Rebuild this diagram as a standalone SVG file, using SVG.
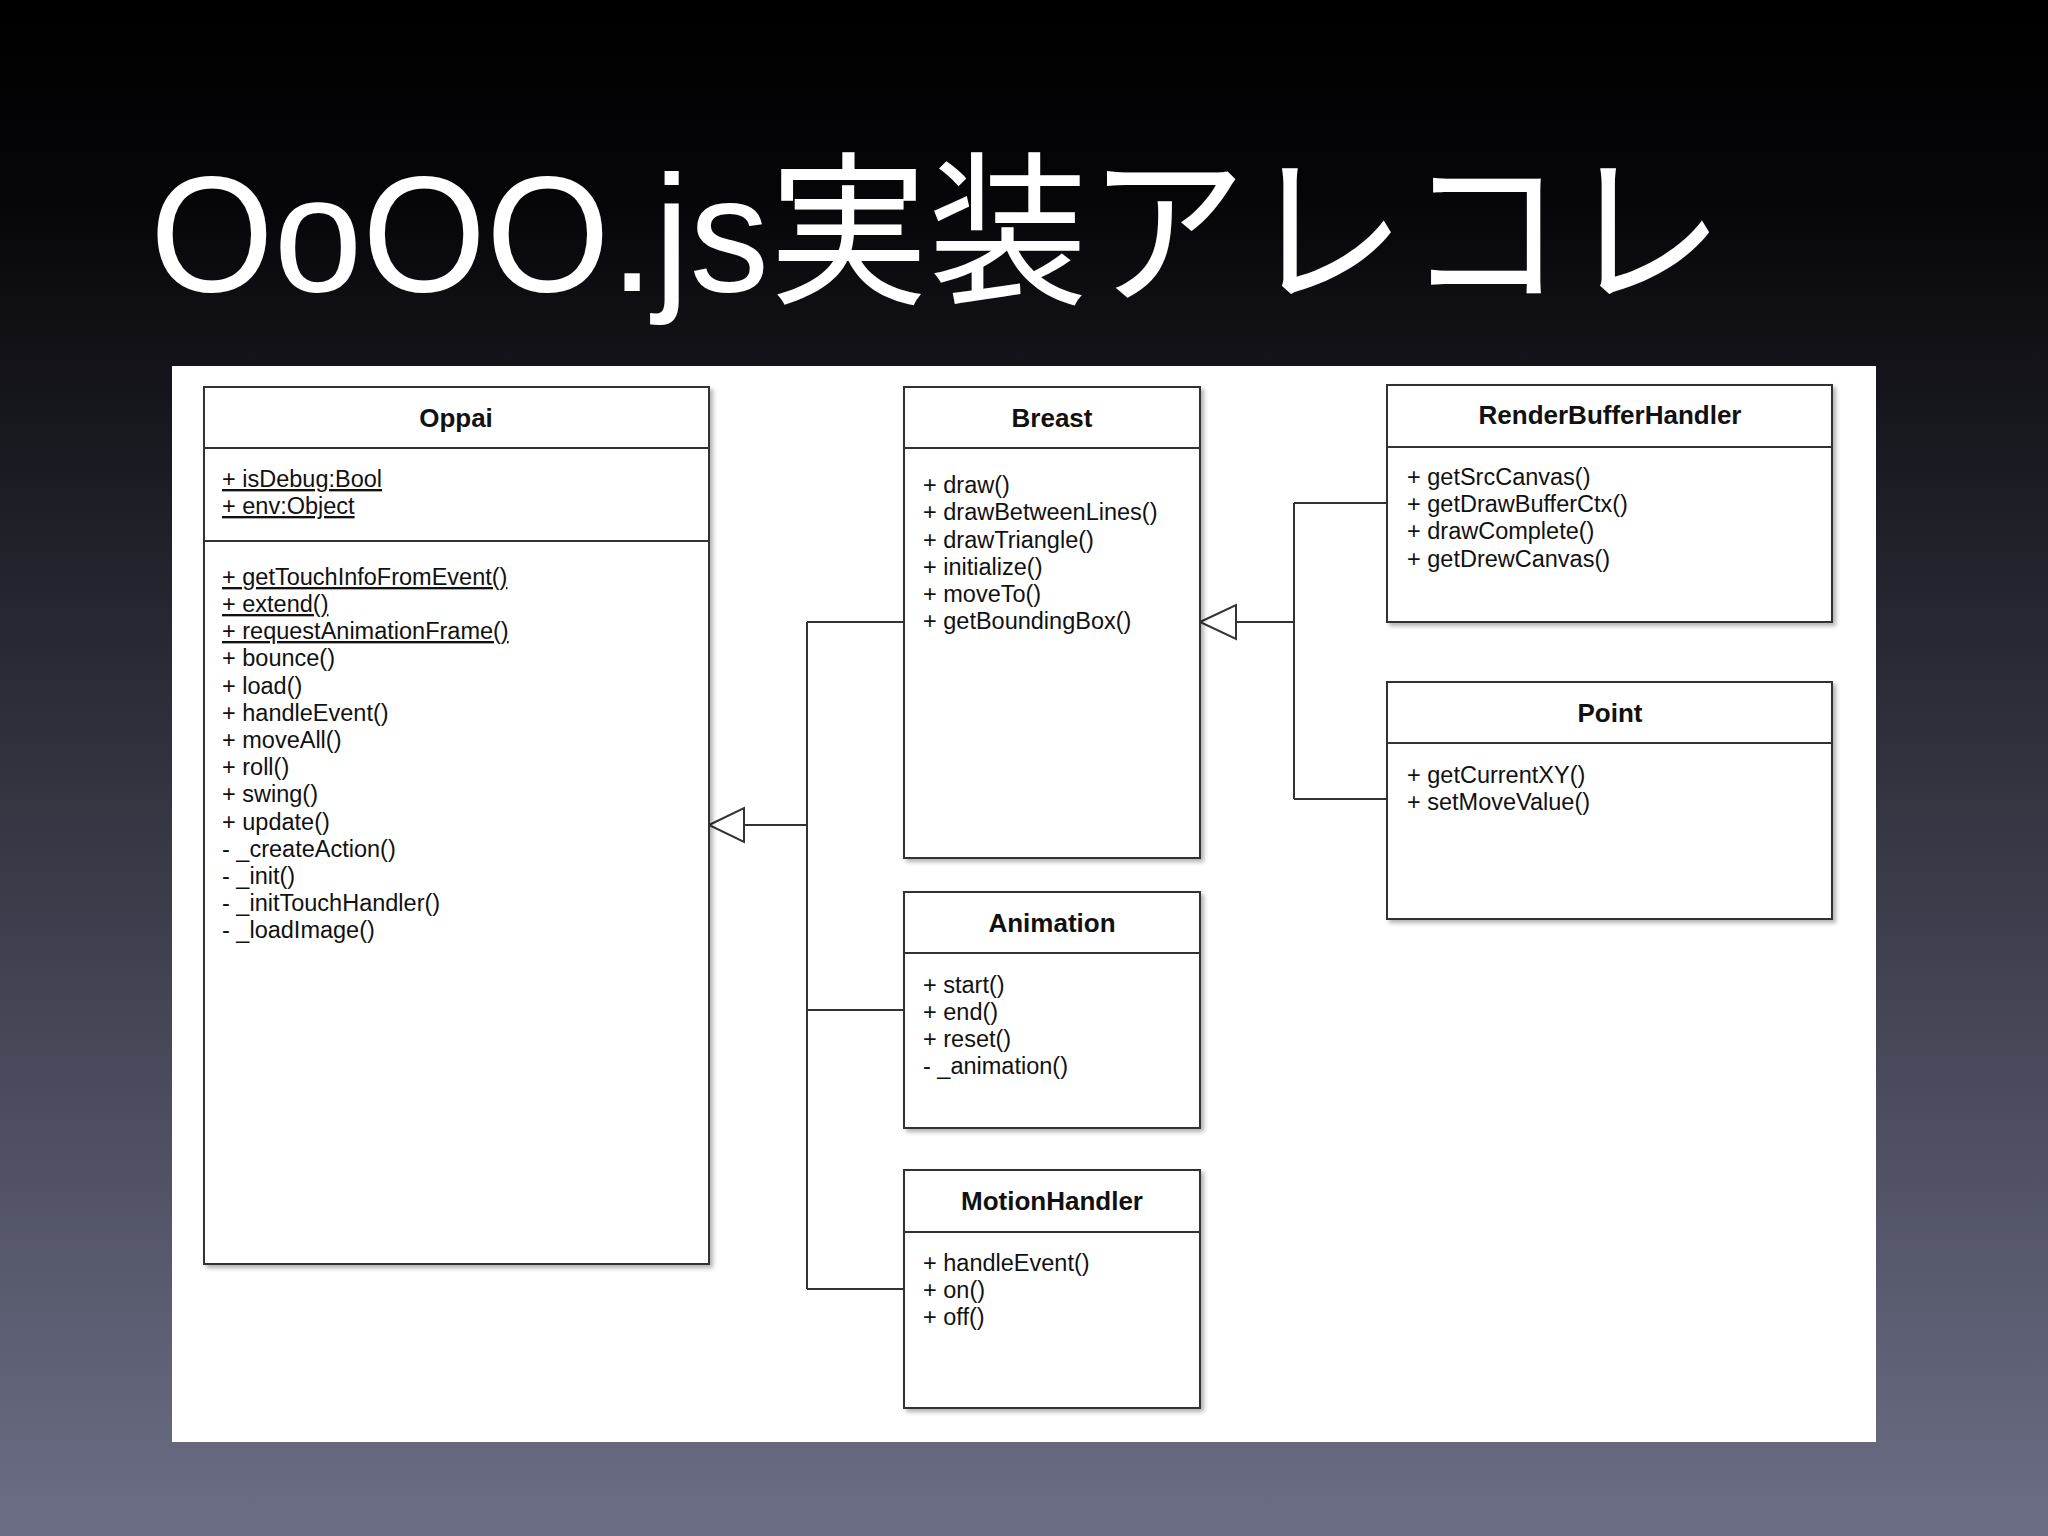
<svg xmlns="http://www.w3.org/2000/svg" width="2048" height="1536" viewBox="0 0 2048 1536">
<defs>
<linearGradient id="bg" x1="0" y1="0" x2="0" y2="1">
<stop offset="0" stop-color="#000"/><stop offset="0.12" stop-color="#050508"/><stop offset="1" stop-color="#6c6e86"/>
</linearGradient>
<filter id="sh" x="-5%" y="-5%" width="110%" height="110%"><feDropShadow dx="3" dy="3" stdDeviation="2" flood-color="#000" flood-opacity="0.3"/></filter>
</defs>
<style>
.box{fill:#fff;stroke:#333;stroke-width:2;filter:url(#sh)}
.sep{stroke:#333;stroke-width:2}
.t{font-family:"Liberation Sans",Arial,sans-serif;font-size:26px;font-weight:bold;text-anchor:middle;fill:#111}
.m{font-family:"Liberation Sans",Arial,sans-serif;font-size:23.5px;fill:#111}
.u{text-decoration:underline}
.c{fill:none;stroke:#333;stroke-width:2}
.tri{fill:#fff;stroke:#333;stroke-width:2}
</style>
<rect width="2048" height="1536" fill="url(#bg)"/>
<text x="150" y="291" font-family="Liberation Sans,'Noto Sans CJK JP',sans-serif" font-size="165" fill="#fff" textLength="1574" lengthAdjust="spacingAndGlyphs">OoOO.js実装アレコレ</text>
<rect x="172" y="366" width="1704" height="1076" fill="#fff"/>
<g id="connectors">
<path class="c" d="M744 825H807M807 622V1289M807 622H904M807 1010H904M807 1289H904"/>
<polygon class="tri" points="709,825 744,808 744,842"/>
<path class="c" d="M1236 622H1294M1294 503V799M1294 503H1387M1294 799H1387"/>
<polygon class="tri" points="1200,622 1236,605 1236,639"/>
</g>
<g id="Oppai">
<rect class="box" x="204" y="387" width="505" height="877"/>
<line class="sep" x1="204" y1="448" x2="709" y2="448"/><line class="sep" x1="204" y1="541" x2="709" y2="541"/>
<text class="t" x="456" y="427">Oppai</text>
<text class="m u" x="222" y="487">+ isDebug:Bool</text>
<text class="m u" x="222" y="514">+ env:Object</text>
<text class="m u" x="222" y="585">+ getTouchInfoFromEvent()</text>
<text class="m u" x="222" y="612">+ extend()</text>
<text class="m u" x="222" y="639">+ requestAnimationFrame()</text>
<text class="m" x="222" y="666">+ bounce()</text>
<text class="m" x="222" y="694">+ load()</text>
<text class="m" x="222" y="721">+ handleEvent()</text>
<text class="m" x="222" y="748">+ moveAll()</text>
<text class="m" x="222" y="775">+ roll()</text>
<text class="m" x="222" y="802">+ swing()</text>
<text class="m" x="222" y="830">+ update()</text>
<text class="m" x="222" y="857">- _createAction()</text>
<text class="m" x="222" y="884">- _init()</text>
<text class="m" x="222" y="911">- _initTouchHandler()</text>
<text class="m" x="222" y="938">- _loadImage()</text>
</g>
<g id="Breast">
<rect class="box" x="904" y="387" width="296" height="471"/>
<line class="sep" x1="904" y1="448" x2="1200" y2="448"/>
<text class="t" x="1052" y="427">Breast</text>
<text class="m" x="923" y="493">+ draw()</text>
<text class="m" x="923" y="520">+ drawBetweenLines()</text>
<text class="m" x="923" y="548">+ drawTriangle()</text>
<text class="m" x="923" y="575">+ initialize()</text>
<text class="m" x="923" y="602">+ moveTo()</text>
<text class="m" x="923" y="629">+ getBoundingBox()</text>
</g>
<g id="Animation">
<rect class="box" x="904" y="892" width="296" height="236"/>
<line class="sep" x1="904" y1="953" x2="1200" y2="953"/>
<text class="t" x="1052" y="932">Animation</text>
<text class="m" x="923" y="993">+ start()</text>
<text class="m" x="923" y="1020">+ end()</text>
<text class="m" x="923" y="1047">+ reset()</text>
<text class="m" x="923" y="1074">- _animation()</text>
</g>
<g id="MotionHandler">
<rect class="box" x="904" y="1170" width="296" height="238"/>
<line class="sep" x1="904" y1="1232" x2="1200" y2="1232"/>
<text class="t" x="1052" y="1210">MotionHandler</text>
<text class="m" x="923" y="1271">+ handleEvent()</text>
<text class="m" x="923" y="1298">+ on()</text>
<text class="m" x="923" y="1325">+ off()</text>
</g>
<g id="RenderBufferHandler">
<rect class="box" x="1387" y="385" width="445" height="237"/>
<line class="sep" x1="1387" y1="447" x2="1832" y2="447"/>
<text class="t" x="1610" y="424">RenderBufferHandler</text>
<text class="m" x="1407" y="485">+ getSrcCanvas()</text>
<text class="m" x="1407" y="512">+ getDrawBufferCtx()</text>
<text class="m" x="1407" y="539">+ drawComplete()</text>
<text class="m" x="1407" y="567">+ getDrewCanvas()</text>
</g>
<g id="Point">
<rect class="box" x="1387" y="682" width="445" height="237"/>
<line class="sep" x1="1387" y1="743" x2="1832" y2="743"/>
<text class="t" x="1610" y="722">Point</text>
<text class="m" x="1407" y="783">+ getCurrentXY()</text>
<text class="m" x="1407" y="810">+ setMoveValue()</text>
</g>
</svg>
